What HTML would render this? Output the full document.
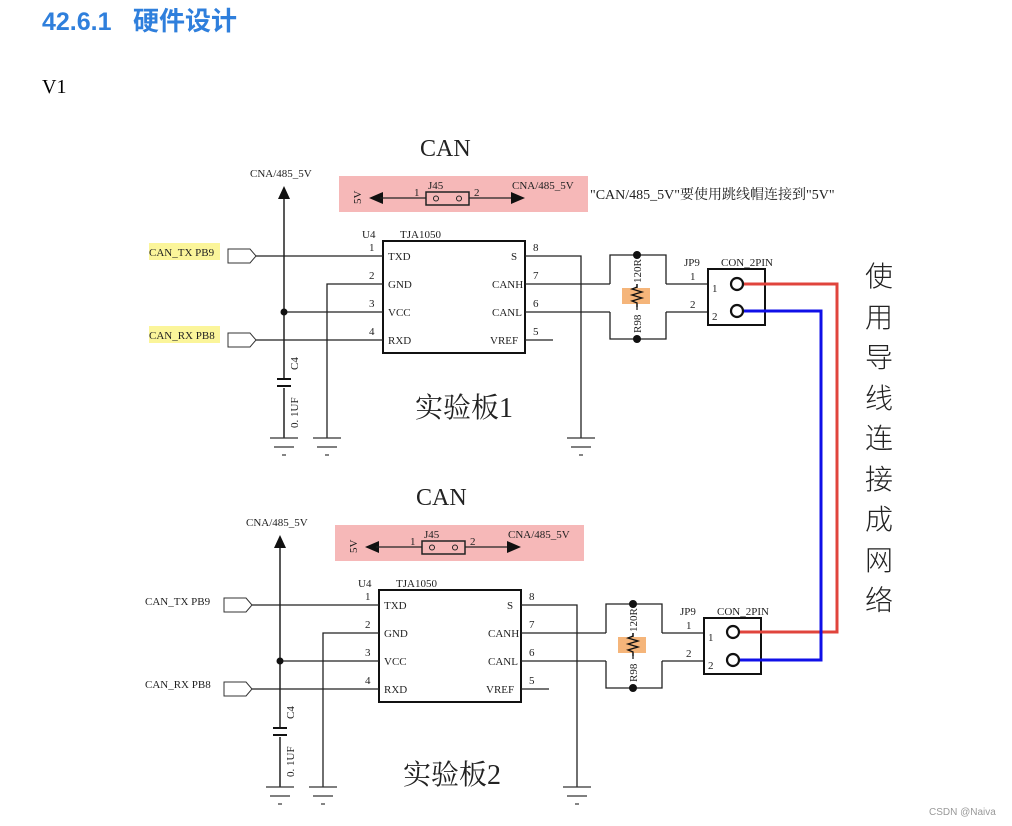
<!DOCTYPE html>
<html><head><meta charset="utf-8"><style>
html,body{margin:0;padding:0;background:#fff;width:1012px;height:826px;overflow:hidden}
svg{display:block}
.s{font-family:"Liberation Serif","Noto Serif CJK SC",serif;fill:#222}
</style></head><body>
<svg width="1012" height="826" viewBox="0 0 1012 826" xmlns="http://www.w3.org/2000/svg">
<defs>
<g id="gnd" stroke="#333" stroke-width="1.2">
<line x1="-14" y1="0" x2="14" y2="0"/><line x1="-10" y1="9" x2="10" y2="9"/><line x1="-2" y1="17" x2="2" y2="17"/>
</g>
<g id="board">
<text class="s" x="420" y="156" font-size="24">CAN</text>
<text class="s" x="250" y="177" font-size="11">CNA/485_5V</text>
<line x1="284" y1="195" x2="284" y2="438" stroke="#222" stroke-width="1.5"/>
<polygon points="284,186 278,199 290,199" fill="#111"/>
<rect x="339" y="176" width="249" height="36" fill="#f6b8b8"/>
<text class="s" font-size="11" transform="translate(361,204) rotate(-90)">5V</text>
<polygon points="369,198 383,192 383,204" fill="#111"/>
<line x1="380" y1="198" x2="426" y2="198" stroke="#222" stroke-width="1.2"/>
<line x1="469" y1="198" x2="515" y2="198" stroke="#222" stroke-width="1.2"/>
<polygon points="525,198 511,192 511,204" fill="#111"/>
<rect x="426" y="192" width="43" height="13" fill="none" stroke="#222" stroke-width="1.5"/>
<circle cx="436" cy="198.5" r="2.5" fill="none" stroke="#222"/><circle cx="459" cy="198.5" r="2.5" fill="none" stroke="#222"/>
<text class="s" x="414" y="196" font-size="11">1</text>
<text class="s" x="428" y="189" font-size="11">J45</text>
<text class="s" x="474" y="196" font-size="11">2</text>
<text class="s" x="512" y="189" font-size="11">CNA/485_5V</text>
<text class="s" x="362" y="238" font-size="11">U4</text>
<text class="s" x="400" y="238" font-size="11">TJA1050</text>
<rect x="383" y="241" width="142" height="112" fill="none" stroke="#111" stroke-width="2"/>
<g class="s" font-size="11">
<text x="369" y="251">1</text><text x="369" y="279">2</text><text x="369" y="307">3</text><text x="369" y="335">4</text>
<text x="533" y="251">8</text><text x="533" y="279">7</text><text x="533" y="307">6</text><text x="533" y="335">5</text>
<text x="388" y="260">TXD</text><text x="388" y="288">GND</text><text x="388" y="316">VCC</text><text x="388" y="344">RXD</text>
<text x="511" y="260">S</text><text x="492" y="288">CANH</text><text x="492" y="316">CANL</text><text x="490" y="344">VREF</text>
<text x="149" y="256">CAN_TX  PB9</text><text x="149" y="339">CAN_RX  PB8</text>
</g>
<polygon points="228,249 250,249 256,256 250,263 228,263" fill="none" stroke="#333"/>
<polygon points="228,333 250,333 256,340 250,347 228,347" fill="none" stroke="#333"/>
<g stroke="#222" stroke-width="1.3" fill="none">
<line x1="256" y1="256" x2="383" y2="256"/>
<line x1="256" y1="340" x2="383" y2="340"/>
<polyline points="383,284 327,284 327,438"/>
<line x1="284" y1="312" x2="383" y2="312"/>
<polyline points="525,256 581,256 581,438"/>
<line x1="525" y1="284" x2="610" y2="284"/>
<line x1="525" y1="312" x2="610" y2="312"/>
<line x1="525" y1="340" x2="553" y2="340"/>
<polyline points="610,284 610,255 666,255 666,284"/>
<polyline points="610,312 610,339 666,339 666,312"/>
<line x1="637" y1="255" x2="637" y2="339"/>
<line x1="666" y1="284" x2="708" y2="284"/>
<line x1="666" y1="312" x2="708" y2="312"/>
</g>
<circle cx="284" cy="312" r="3.5" fill="#111"/>
<rect x="279" y="378" width="10" height="10" fill="#fff"/>
<line x1="277" y1="379" x2="291" y2="379" stroke="#111" stroke-width="2"/>
<line x1="277" y1="386" x2="291" y2="386" stroke="#111" stroke-width="2"/>
<text class="s" font-size="11" transform="translate(298,370) rotate(-90)">C4</text>
<text class="s" font-size="11" transform="translate(298,428) rotate(-90)">0. 1UF</text>
<use href="#gnd" x="284" y="438"/><use href="#gnd" x="327" y="438"/><use href="#gnd" x="581" y="438"/>
<rect x="622" y="288" width="28" height="16" fill="#f5b57a"/>
<polyline points="637,283 637,287 632,289 642,292 632,295 642,298 632,301 637,303 637,307" fill="none" stroke="#111" stroke-width="1.3"/>
<rect x="632" y="258" width="10" height="26" fill="#fff"/>
<rect x="632" y="310" width="10" height="26" fill="#fff"/>
<text class="s" font-size="11" transform="translate(641,283) rotate(-90)">120R</text>
<text class="s" font-size="11" transform="translate(641,333) rotate(-90)">R98</text>
<circle cx="637" cy="255" r="4" fill="#111"/><circle cx="637" cy="339" r="4" fill="#111"/>
<text class="s" x="684" y="266" font-size="11">JP9</text>
<text class="s" x="721" y="266" font-size="11">CON_2PIN</text>
<text class="s" x="690" y="280" font-size="11">1</text>
<text class="s" x="690" y="308" font-size="11">2</text>
<rect x="708" y="269" width="57" height="56" fill="none" stroke="#111" stroke-width="2"/>
<text class="s" x="712" y="292" font-size="11">1</text>
<text class="s" x="712" y="320" font-size="11">2</text>
</g>
</defs>
<g font-family="'Liberation Sans','Noto Sans CJK SC',sans-serif" font-size="25" font-weight="bold" fill="#2f7fdc">
<text x="42" y="30">42.6.1</text>
<text x="133" y="30" font-size="26">硬件设计</text>
</g>
<text class="s" x="42" y="93" font-size="20" style="fill:#000">V1</text>

<rect x="149" y="243" width="71" height="17" fill="#fbf59a"/>
<rect x="149" y="326" width="71" height="17" fill="#fbf59a"/>
<use href="#board"/>
<use href="#board" transform="translate(-4,349)"/>

<text class="s" x="590" y="199" font-size="14" style="fill:#222">"CAN/485_5V"要使用跳线帽连接到"5V"</text>
<text x="415" y="417" font-family="'Liberation Serif','Noto Serif CJK SC',serif" font-size="28" fill="#222">实验板1</text>
<text x="403" y="784" font-family="'Liberation Serif','Noto Serif CJK SC',serif" font-size="28" fill="#222">实验板2</text>

<polyline points="741,284 837,284 837,632 737,632" fill="none" stroke="#e0443c" stroke-width="3"/>
<polyline points="741,311 821,311 821,660 737,660" fill="none" stroke="#1010e8" stroke-width="3"/>
<g fill="#fff" stroke="#111" stroke-width="2.2">
<circle cx="737" cy="284" r="6"/><circle cx="737" cy="311" r="6"/>
<circle cx="733" cy="632" r="6"/><circle cx="733" cy="660" r="6"/>
</g>
<g font-family="'Noto Sans CJK SC',sans-serif" font-size="28" fill="#222" font-weight="300">
<text x="865" y="286">使</text><text x="865" y="327">用</text><text x="865" y="367">导</text>
<text x="865" y="408">线</text><text x="865" y="448">连</text><text x="865" y="489">接</text>
<text x="865" y="529">成</text><text x="865" y="570">网</text><text x="865" y="610">络</text>
</g>
<text x="929" y="815" font-family="'Liberation Sans',sans-serif" font-size="10" fill="#999">CSDN @Naiva</text>
</svg>
</body></html>
